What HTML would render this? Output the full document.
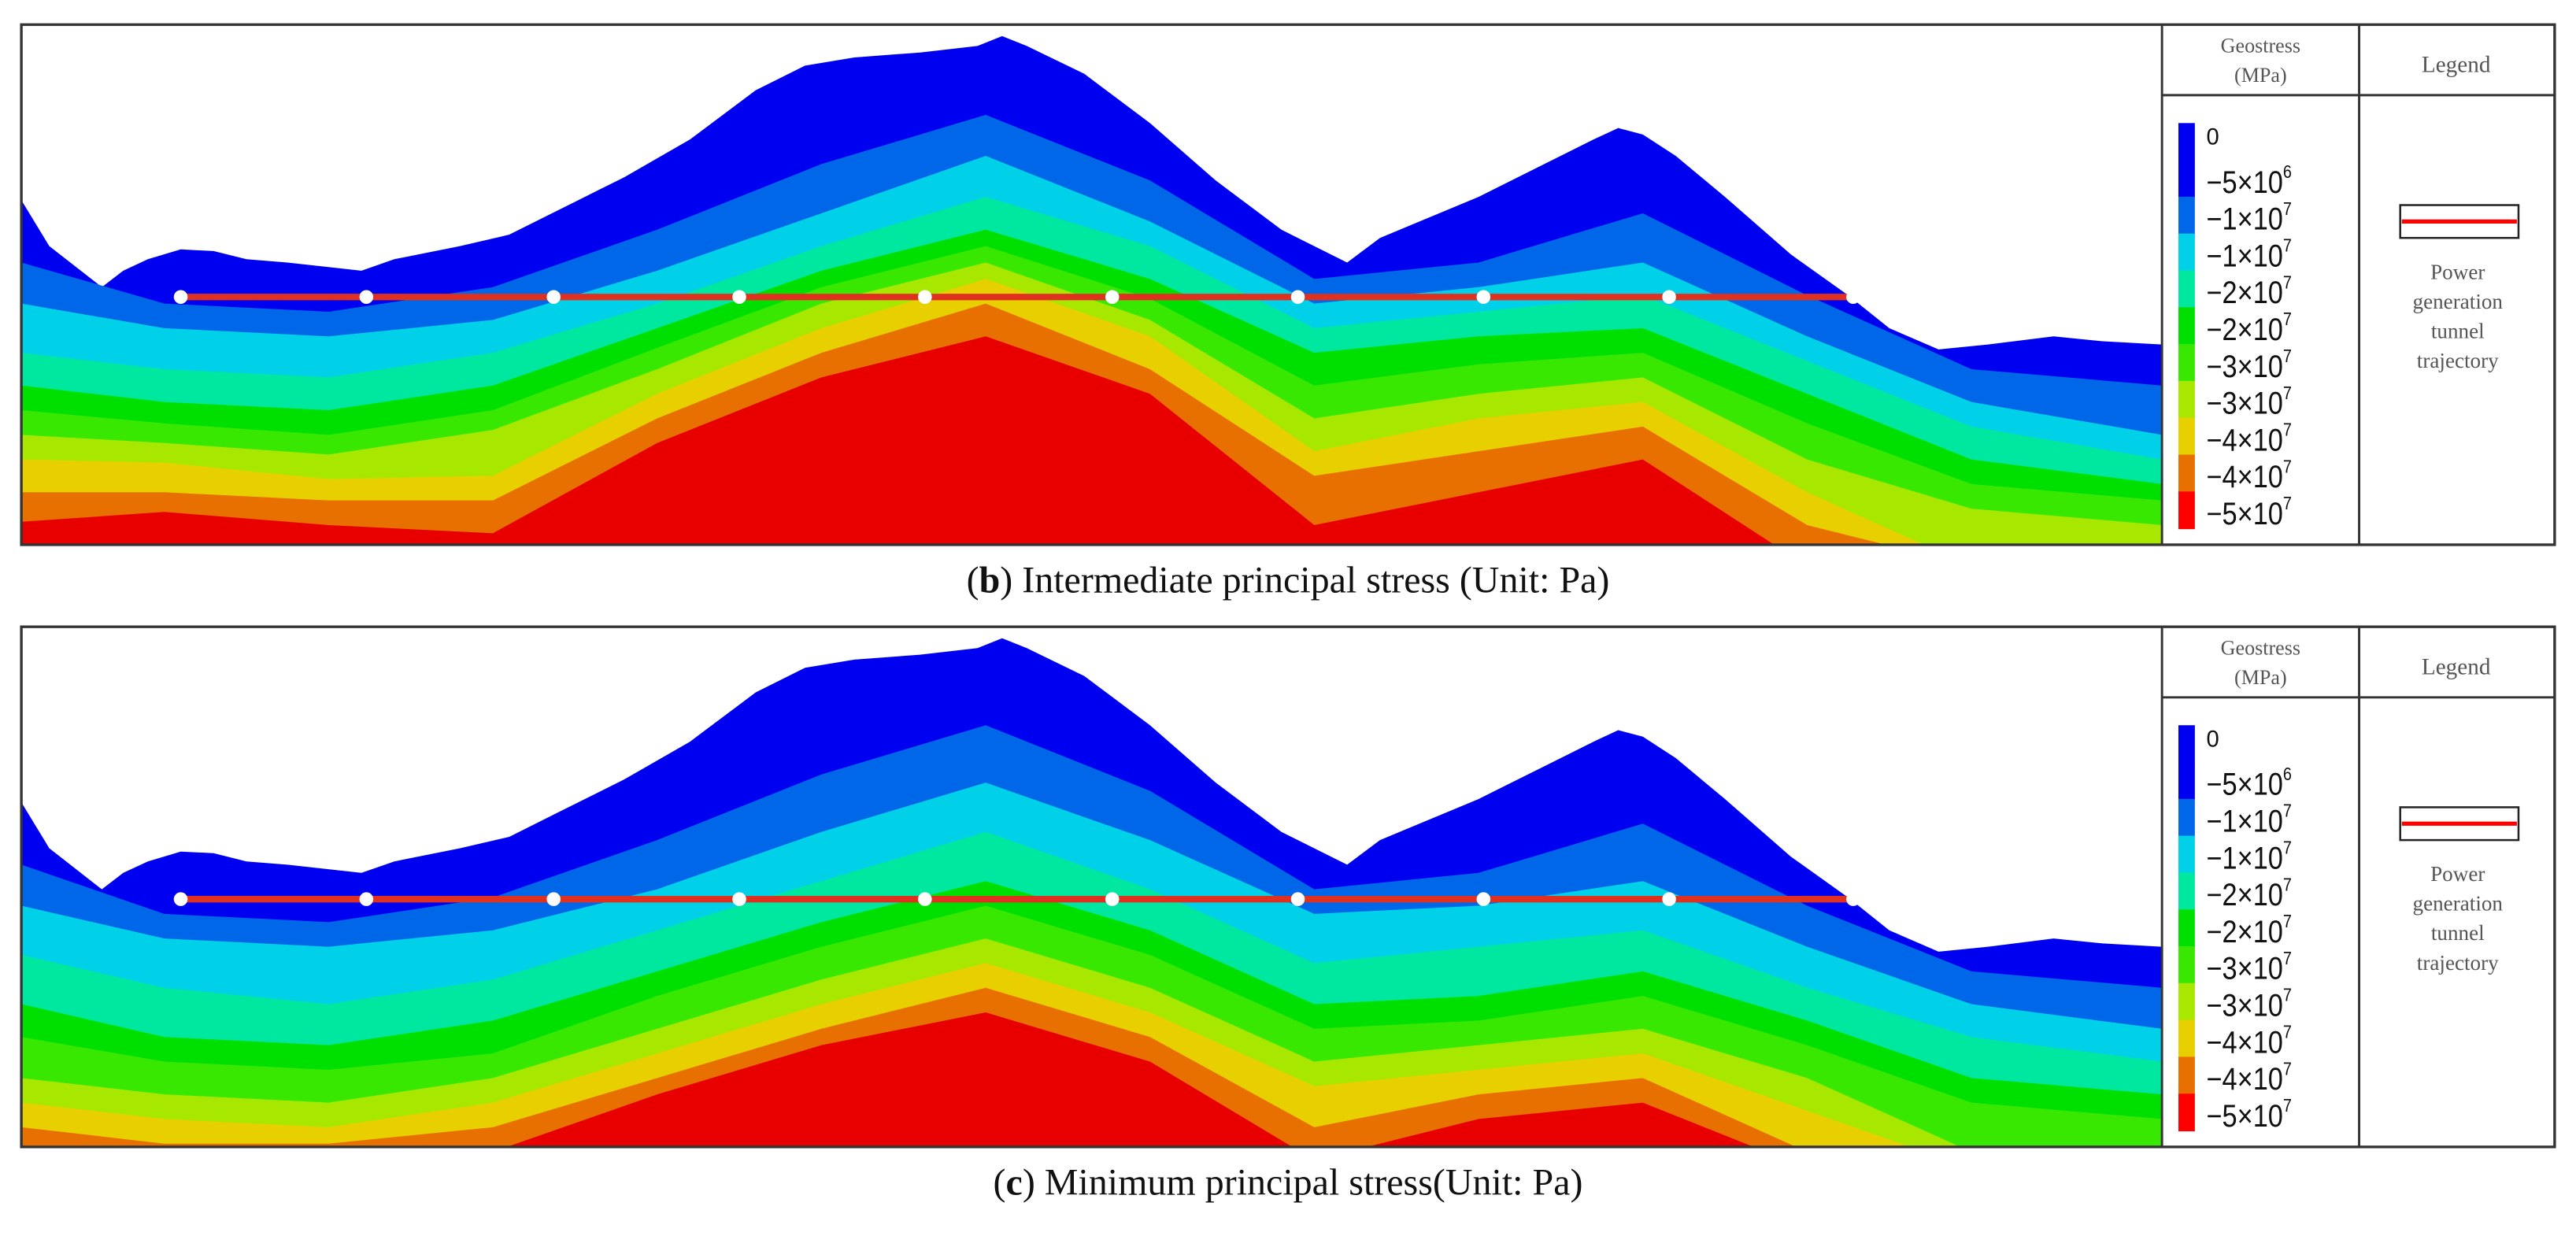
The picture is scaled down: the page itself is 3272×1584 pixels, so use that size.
<!DOCTYPE html>
<html><head><meta charset="utf-8"><style>
html,body{margin:0;padding:0;background:#fff;width:3272px;height:1584px;overflow:hidden}
svg{display:block}
</style></head><body>
<svg id="fig" width="3272" height="1584" viewBox="0 0 1568 760" preserveAspectRatio="none" xmlns="http://www.w3.org/2000/svg"></svg>
<script>
// ---- data (display units) ----
const xs = [13,100,200,300,400,500,600,700,800,900,1000,1100,1200,1316];
const surfaceDetail = [[13,122],[30,150],[62,175],[75,165],[90,158],[110,152],[130,153],[150,158],[175,160],[220,165],[240,158],[280,150],[310,143],[340,128],[380,108],[420,85],[460,55],[490,40],[520,35],[560,32],[595,28],[610,22],[625,28],[660,45],[700,75],[740,110],[780,140],[820,160],[840,145],[900,120],[940,100],[970,85],[985,78],[1000,82],[1020,95],[1050,120],[1090,155],[1125,180],[1150,200],[1180,213],[1210,210],[1250,205],[1280,208],[1316,210]];
const bandColors = ["#0000f0","#0068e8","#00d0e8","#00e8a0","#00e000","#38e800","#a8e800","#e8d000","#e87000","#e80000"];
const bLevels = [
 [160,185,190,175,140,100,70,110,170,160,130,180,225,235],
 [185,200,205,195,165,130,95,135,185,175,160,205,245,265],
 [215,225,230,215,185,150,120,150,200,190,180,220,260,280],
 [235,245,250,235,200,165,140,170,215,205,200,240,280,295],
 [250,258,265,250,212,175,150,182,235,222,215,258,295,305],
 [265,270,277,262,225,185,160,195,255,240,230,280,310,320],
 [280,282,292,290,240,200,170,205,275,255,245,300,345,345],
 [300,300,305,305,255,215,185,225,290,275,260,320,345,345],
 [318,312,320,325,270,230,205,240,320,300,280,345,345,345]
];
const cLevels = [
 [160,190,195,180,145,105,75,115,175,165,135,185,225,235],
 [185,205,210,200,175,140,110,145,190,185,170,210,245,260],
 [215,235,245,230,200,170,140,175,220,210,200,235,265,280],
 [245,265,270,255,225,195,170,200,245,240,225,255,290,300],
 [265,280,285,275,240,210,185,215,260,255,240,270,305,315],
 [290,300,305,290,260,230,205,235,280,270,260,290,335,340],
 [305,315,320,305,275,245,220,250,295,285,275,310,345,345],
 [320,330,330,320,290,260,235,265,320,300,290,335,345,345],
 [335,345,345,335,300,270,250,280,340,315,305,345,345,345]
];
const tunnelX = [110,223,337,450,563,677,790,903,1016,1128];
const tunnelY = 181;
const cbLabels = ["0","\u22125\u00d710","\u22121\u00d710","\u22121\u00d710","\u22122\u00d710","\u22122\u00d710","\u22123\u00d710","\u22123\u00d710","\u22124\u00d710","\u22124\u00d710","\u22125\u00d710"];
const cbExp = ["","6","7","7","7","7","7","7","7","7","7"];
const cbColors = ["#0000f0","#0000f0","#0068e8","#00d0e8","#00e8a0","#00e000","#38e800","#a8e800","#e8d000","#e87000","#ff0000"];

const NS="http://www.w3.org/2000/svg";
const svg=document.getElementById('fig');
function el(t,a,p){const e=document.createElementNS(NS,t);for(const k in a)e.setAttribute(k,a[k]);(p||svg).appendChild(e);return e;}

function panel(off, levels, caption, letter, id){
  const g=el('g',{});
  
  
  const cp=el('clipPath',{id:'clip'+id},g);
  el('rect',{x:13,y:15+off,width:1303,height:317},cp);
  const pg=el('g',{'clip-path':'url(#clip'+id+')'},g);
  let d='M'+surfaceDetail.map(p=>p[0]+','+(p[1]+off)).join(' L')+' L1316,'+(400+off)+' L13,'+(400+off)+'Z';
  const s=el('path',{d:d,fill:bandColors[0]},pg);
  
  
  levels.forEach((lv,i)=>{
    const dd='M'+xs.map((x,j)=>x+','+(lv[j]+off)).join(' L')+' L1316,'+(400+off)+' L13,'+(400+off)+'Z';
    const b=el('path',{d:dd,fill:bandColors[i+1]},pg);
    
    
  });
  const t=el('line',{x1:tunnelX[0],x2:tunnelX[tunnelX.length-1],y1:tunnelY+off,y2:tunnelY+off,stroke:'#e03020','stroke-width':4},g);
  
  
  tunnelX.forEach(x=>{
    const c=el('circle',{cx:x,cy:tunnelY+off,r:4.2,fill:'#fff'},g);
    
    
  });
  el('rect',{x:13,y:15+off,width:1542,height:317,fill:'none',stroke:'#333','stroke-width':1.6},g);
  el('line',{x1:1316,x2:1316,y1:15+off,y2:332+off,stroke:'#333','stroke-width':1.4},g);
  el('line',{x1:1436,x2:1436,y1:15+off,y2:332+off,stroke:'#333','stroke-width':1.4},g);
  el('line',{x1:1316,x2:1555,y1:58+off,y2:58+off,stroke:'#333','stroke-width':1.4},g);
  const h1=el('text',{x:1376,y:32+off,'font-size':12.5,'text-anchor':'middle','font-family':'Liberation Serif, serif',fill:'#555'},g);h1.textContent='Geostress';
  const h2=el('text',{x:1376,y:50+off,'font-size':12.5,'text-anchor':'middle','font-family':'Liberation Serif, serif',fill:'#555'},g);h2.textContent='(MPa)';
  const h3=el('text',{x:1495,y:44+off,'font-size':14,'text-anchor':'middle','font-family':'Liberation Serif, serif',fill:'#555'},g);h3.textContent='Legend';
  const y0=75+off, y1=322+off, n=cbColors.length, bh=(y1-y0)/n;
  cbColors.forEach((c,i)=>{
    const r=el('rect',{x:1326,y:y0+i*bh,width:10,height:bh+0.5,fill:c},g);
    
    
  });
  cbLabels.forEach((l,i)=>{
    const tx=el('text',{x:1343,y:y0+13+i*bh+(i?7:0),'font-size':i?19:14,'font-family':'Liberation Sans, sans-serif',fill:'#111',textLength:i?52:0,lengthAdjust:'spacingAndGlyphs'},g);
    if(!i) tx.removeAttribute('textLength');
    
    
    tx.textContent=l;
    if(cbExp[i]){const sp=el('tspan',{dy:-9,'font-size':11},tx);sp.textContent=cbExp[i];}
  });
  const lb=el('rect',{x:1461,y:125+off,width:72,height:20,fill:'#fff',stroke:'#222','stroke-width':1.2},g);
  
  
  el('line',{x1:1462,x2:1532,y1:135+off,y2:135+off,stroke:'#f00','stroke-width':2.5},g);
  ['Power','generation','tunnel','trajectory'].forEach((w,i)=>{
    const tx=el('text',{x:1496,y:170+off+i*18,'font-size':13,'text-anchor':'middle','font-family':'Liberation Serif, serif',fill:'#555'},g);
    tx.textContent=w;
  });
  const cap=el('text',{x:784,y:361+off,'font-size':23,'text-anchor':'middle','font-family':'Liberation Serif, serif',fill:'#111'},g);
  
  
  const a=el('tspan',{},cap);a.textContent='(';
  const b=el('tspan',{'font-weight':'bold'},cap);b.textContent=letter;
  const c=el('tspan',{},cap);c.textContent=caption;
}
panel(0,bLevels,') Intermediate principal stress (Unit: Pa)','b','b');
panel(367,cLevels,') Minimum principal stress(Unit: Pa)','c','c');
</script>
</body></html>
